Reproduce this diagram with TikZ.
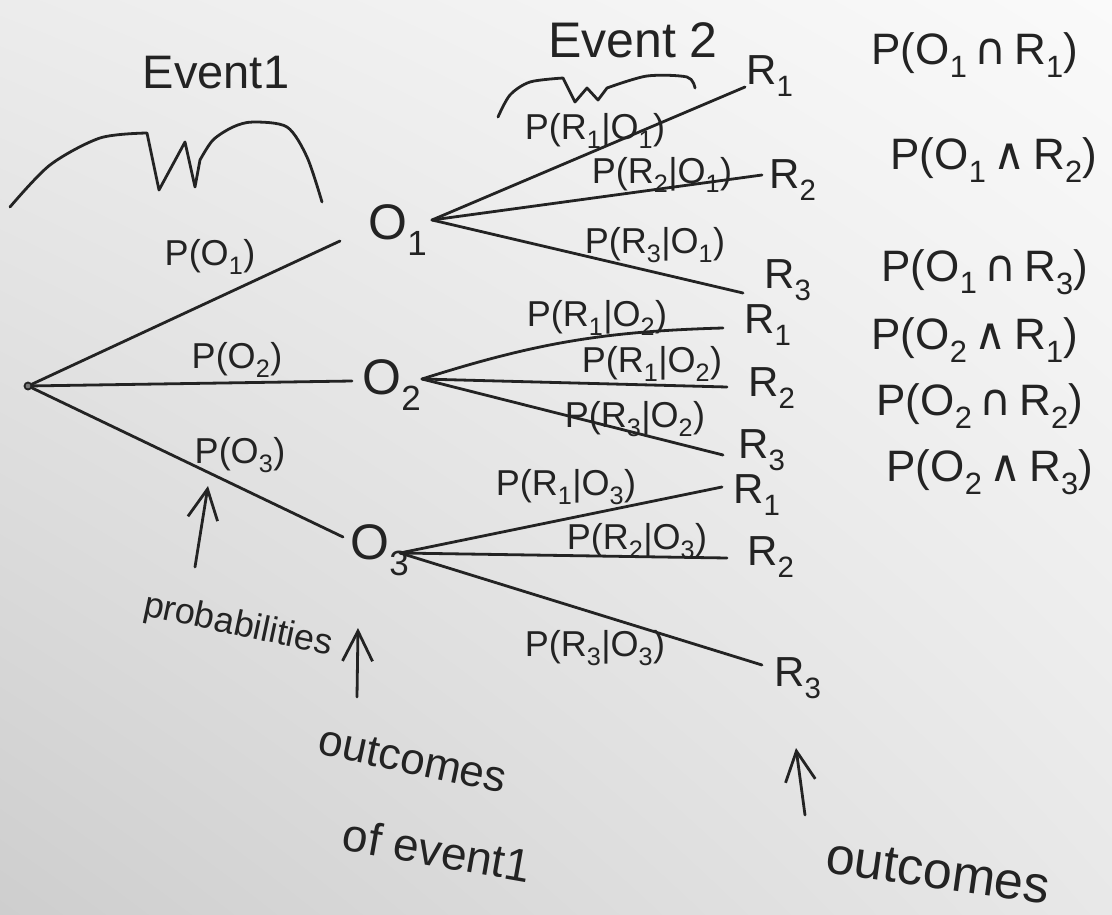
\documentclass[tikz,border=0pt]{standalone}
\usepackage{fontspec}
\setmainfont{Liberation Sans}
\newfontfamily\symf{DejaVu Sans}
\usetikzlibrary{arrows.meta,shadings}
\definecolor{ink}{RGB}{35,35,35}
\definecolor{pUL}{RGB}{236,236,236}
\definecolor{pUR}{RGB}{250,250,250}
\definecolor{pLL}{RGB}{206,206,206}
\definecolor{pLR}{RGB}{232,232,232}
\newcommand\sub[1]{\textsubscript{#1}}
\newcommand\capx{\,{\symf ∩}\,}
\newcommand\andx{\,{\symf ∧}\,}
\begin{document}
\begin{tikzpicture}[x=1pt,y=-1pt,
  every node/.style={inner sep=0pt, text=ink},
  branch/.style={draw=ink, line width=2.8pt, line cap=round},
  brace/.style={draw=ink, line width=2.8pt, line cap=round, line join=round},
  arr/.style={draw=ink, line width=2.8pt, line cap=round, -{Straight Barb[length=30pt,width=30pt,line width=2.8pt]}},
  dotnode/.style={circle, draw=ink, fill=ink!60, line width=1.8pt, minimum size=7pt},
  olbl/.style={font=\fontsize{50}{50}\selectfont},
  rlbl/.style={font=\fontsize{42}{42}\selectfont},
  plbl/.style={font=\fontsize{36}{36}\selectfont},
  jlbl/.style={font=\fontsize{44}{44}\selectfont},
  evlbl/.style={font=\fontsize{47}{47}\selectfont},
  note/.style={font=\fontsize{44}{44}\selectfont}]
\useasboundingbox (0,0) rectangle (1112,915);
\shade[upper left=pUL, upper right=pUR, lower left=pLL, lower right=pLR] (0,0) rectangle (1112,915);

% headings and braces
\node[evlbl] (ev1) at (216,73) {Event1};
\node[evlbl, font=\fontsize{50}{50}\selectfont] (ev2) at (633,40) {Event 2};
\draw[brace] plot[smooth] coordinates {(10,207) (50,165) (100,138) (147,133)} -- (159,190) -- (185,142) -- (195,187)
  -- plot[smooth] coordinates {(200,160) (213,140) (233,127) (253,122) (287,127) (307,157) (322,202)};
\draw[brace] plot[smooth] coordinates {(498,117) (510,95) (530,82) (563,78)} -- (575,102) -- (587,88) -- (598,100)
  -- plot[smooth] coordinates {(607,88) (647,76) (687,77) (695,88)};

% root and first-level outcomes
\node[dotnode] (root) at (28,386) {};
\node[olbl] (O1) at (398,230) {O\sub1};
\node[olbl] (O2) at (392,385) {O\sub2};
\node[olbl] (O3) at (380,550) {O\sub3};
\coordinate (o1in) at (340,241);
\coordinate (o2in) at (352,381);
\coordinate (o3in) at (343,537);
\coordinate (o1) at (432,220);
\coordinate (o2) at (422,379);
\coordinate (o3) at (400,553);
\draw[branch] (root) -- (o1in);
\draw[branch] (root) -- (o2in);
\draw[branch] (root) -- (o3in);
\node[plbl] (p1) at (210,257) {P(O\sub1)};
\node[plbl] (p2) at (237,360) {P(O\sub2)};
\node[plbl] (p3) at (240,455) {P(O\sub3)};

% second level ends
\coordinate (e11) at (745,87);
\coordinate (e12) at (762,175);
\coordinate (e13) at (743,293);
\coordinate (e21) at (723,328);
\coordinate (e22) at (727,387);
\coordinate (e23) at (723,455);
\coordinate (e31) at (722,487);
\coordinate (e32) at (727,558);
\coordinate (e33) at (762,665);
\draw[branch] (o1) -- (e11);
\draw[branch] (o1) -- (e12);
\draw[branch] (o1) -- (e13);
\draw[branch] (o2) to[bend left=8] (e21);
\draw[branch] (o2) -- (e22);
\draw[branch] (o2) -- (e23);
\draw[branch] (o3) -- (e31);
\draw[branch] (o3) -- (e32);
\draw[branch] (o3) -- (e33);

\node[rlbl] (R11) at (770,76) {R\sub1};
\node[rlbl] (R12) at (793,180) {R\sub2};
\node[rlbl] (R13) at (788,280) {R\sub3};
\node[rlbl] (R21) at (768,325) {R\sub1};
\node[rlbl] (R22) at (772,388) {R\sub2};
\node[rlbl] (R23) at (762,450) {R\sub3};
\node[rlbl] (R31) at (757,495) {R\sub1};
\node[rlbl] (R32) at (771,557) {R\sub2};
\node[rlbl] (R33) at (798,678) {R\sub3};

\node[plbl] (q11) at (595,131) {P(R\sub1|O\sub1)};
\node[plbl] (q12) at (662,175) {P(R\sub2|O\sub1)};
\node[plbl] (q13) at (655,245) {P(R\sub3|O\sub1)};
\node[plbl] (q21) at (597,318) {P(R\sub1|O\sub2)};
\node[plbl] (q22) at (652,364) {P(R\sub1|O\sub2)};
\node[plbl] (q23) at (635,419) {P(R\sub3|O\sub2)};
\node[plbl] (q31) at (566,487) {P(R\sub1|O\sub3)};
\node[plbl] (q32) at (637,541) {P(R\sub2|O\sub3)};
\node[plbl] (q33) at (595,648) {P(R\sub3|O\sub3)};

% joint probabilities
\node[jlbl] (j1) at (975,55) {P(O\sub1\capx R\sub1)};
\node[jlbl] (j2) at (994,160) {P(O\sub1\andx R\sub2)};
\node[jlbl] (j3) at (985,272) {P(O\sub1\capx R\sub3)};
\node[jlbl] (j4) at (975,340) {P(O\sub2\andx R\sub1)};
\node[jlbl] (j5) at (980,406) {P(O\sub2\capx R\sub2)};
\node[jlbl] (j6) at (990,472) {P(O\sub2\andx R\sub3)};

% annotations
\node[note, font=\fontsize{36}{36}\selectfont, rotate=-12] (prob) at (238,626) {probabilities};
\coordinate (pa0) at (195,567);
\coordinate (pa1) at (208,486);
\draw[arr] (pa0) -- (pa1);
\node[note, rotate=-12] (oc1) at (413,760) {outcomes};
\node[note, font=\fontsize{46}{46}\selectfont, rotate=-10] (oc2) at (437,850) {of event1};
\coordinate (oa0) at (357,697);
\coordinate (oa1) at (358,628);
\draw[arr] (oa0) -- (oa1);
\node[note, font=\fontsize{52}{52}\selectfont, rotate=-8] (oc3) at (938,872) {outcomes};
\coordinate (ra0) at (805,815);
\coordinate (ra1) at (796,748);
\draw[arr] (ra0) -- (ra1);
\end{tikzpicture}
\end{document}
